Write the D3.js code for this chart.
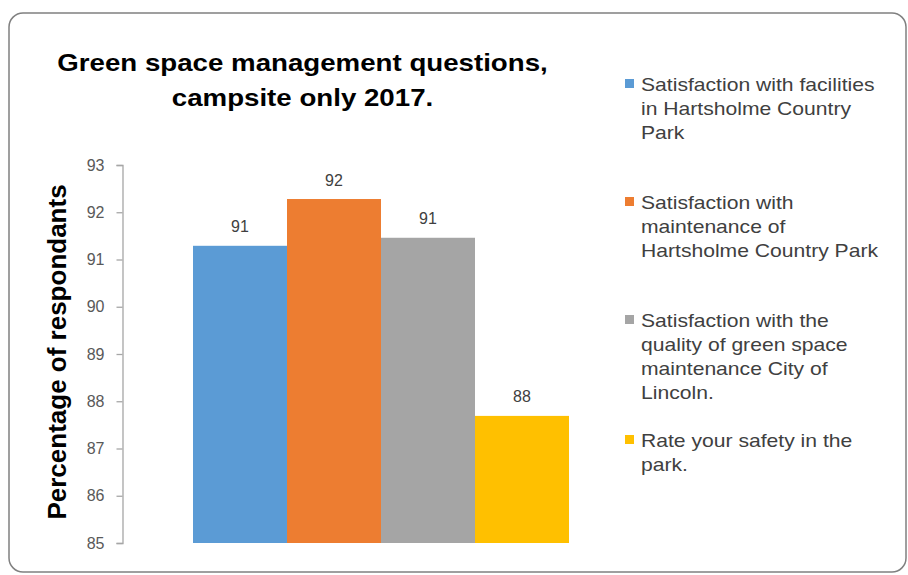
<!DOCTYPE html>
<html>
<head>
<meta charset="utf-8">
<script src="https://cdn.jsdelivr.net/npm/d3@7"></script>
<style>
  html, body { margin: 0; padding: 0; background: #fff; }
  svg { display: block; font-family: "Liberation Sans", Arial, sans-serif; }
</style>
</head>
<body>
<svg id="chart" width="908" height="575"></svg>
<script>
// Survey results: campsite respondents, 2017
const categories = [
  "Satisfaction with facilities in Hartsholme Country Park",
  "Satisfaction with maintenance of Hartsholme Country Park",
  "Satisfaction with the quality of green space maintenance City of Lincoln.",
  "Rate your safety in the park."
];
const values = [91.29, 92.28, 91.46, 87.69];
const colors = ["#5b9bd5", "#ed7d31", "#a5a5a5", "#ffc000"];
const legendLines = [
  ["Satisfaction with facilities", "in Hartsholme Country", "Park"],
  ["Satisfaction with", "maintenance of", "Hartsholme Country Park"],
  ["Satisfaction with the", "quality of green space", "maintenance City of", "Lincoln."],
  ["Rate your safety in the", "park."]
];
const yTicks = [85, 86, 87, 88, 89, 90, 91, 92, 93];
const titleLines = ["Green space management questions,", "campsite only 2017."];
const yTitle = "Percentage of respondants";

const svg = d3.select("#chart");

// Outer chart frame
svg.append("rect")
  .attr("x", 9).attr("y", 13)
  .attr("width", 897).attr("height", 559)
  .attr("rx", 14).attr("ry", 14)
  .attr("fill", "#fff")
  .attr("stroke", "#808080")
  .attr("stroke-width", 1.5);

// Title (slightly wide-set lettering)
svg.append("text")
  .attr("transform", "translate(302.5,0) scale(1.13,1)")
  .attr("text-anchor", "middle")
  .attr("font-size", 24.5).attr("font-weight", "bold")
  .attr("fill", "#000")
  .selectAll("tspan").data(titleLines).join("tspan")
  .attr("x", 0)
  .attr("y", (d, i) => 71 + i * 35.5)
  .text(d => d);

// Scales
const y = d3.scaleLinear().domain([85, 93]).range([543, 165]);
const x = d3.scaleBand().domain(categories).range([193, 569]).padding(0);

// Y axis
const axis = svg.append("g")
  .attr("transform", "translate(122.5,0)")
  .call(d3.axisLeft(y).tickValues(yTicks).tickSize(6).tickPadding(12).tickFormat(d3.format("d")));
axis.select(".domain").attr("stroke", "#a6a6a6").attr("stroke-width", 1.3);
axis.selectAll(".tick line").attr("stroke", "#a6a6a6").attr("stroke-width", 1.3);
axis.selectAll(".tick text")
  .attr("font-family", "'Liberation Sans', Arial, sans-serif")
  .attr("font-size", 16).attr("fill", "#595959");

// Y axis title
svg.append("text")
  .attr("transform", "translate(66,352) rotate(-90)")
  .attr("text-anchor", "middle")
  .attr("font-size", 26).attr("font-weight", "bold")
  .attr("fill", "#000")
  .text(yTitle);

// Bars
svg.append("g").selectAll("rect")
  .data(values).join("rect")
  .attr("x", (d, i) => x(categories[i]))
  .attr("y", d => y(d))
  .attr("width", x.bandwidth())
  .attr("height", d => y(85) - y(d))
  .attr("fill", (d, i) => colors[i]);

// Value labels
svg.append("g").selectAll("text")
  .data(values).join("text")
  .attr("x", (d, i) => x(categories[i]) + x.bandwidth() / 2)
  .attr("y", d => y(d) - 13.5)
  .attr("text-anchor", "middle")
  .attr("font-size", 16).attr("fill", "#404040")
  .text(d => d3.format(".0f")(d));

// Legend
const legendTop = [91, 209, 327, 447];
const lg = svg.append("g");
legendLines.forEach((lines, i) => {
  lg.append("rect")
    .attr("x", 625).attr("y", legendTop[i] - 12)
    .attr("width", 9).attr("height", 9)
    .attr("fill", colors[i]);
  lg.append("text")
    .attr("transform", `translate(641,${legendTop[i]}) scale(1.13,1)`)
    .attr("font-size", 18.7).attr("fill", "#404040")
    .selectAll("tspan").data(lines).join("tspan")
    .attr("x", 0)
    .attr("y", (d, j) => j * 24)
    .text(d => d);
});
</script>
</body>
</html>
